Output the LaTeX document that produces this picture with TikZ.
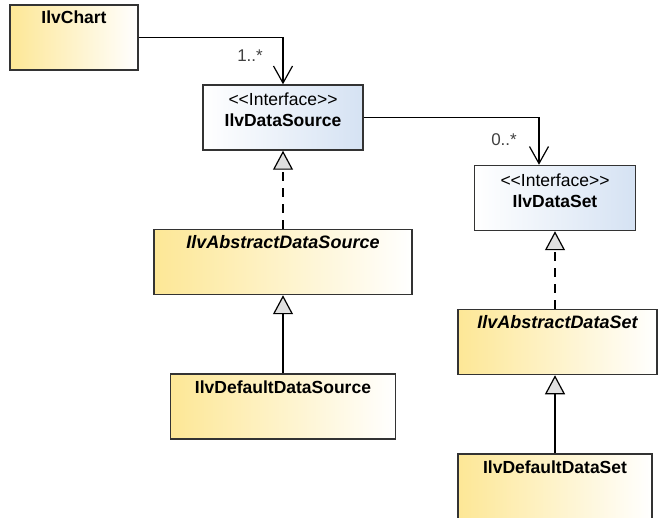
\documentclass[tikz,border=0pt]{standalone}
\usepackage{fontspec}
\setmainfont{Liberation Sans}
\usetikzlibrary{arrows.meta}
\definecolor{classyellow}{RGB}{253,231,150}
\definecolor{ifaceblue}{RGB}{213,226,243}
\definecolor{boxline}{RGB}{51,51,51}
\definecolor{trifill}{RGB}{224,224,224}
\begin{document}
\begin{tikzpicture}[x=1pt,y=-1pt,
  classbox/.style={draw=boxline,line width=1.5pt,inner sep=0pt,text height=19pt,text depth=46pt,
    left color=classyellow,right color=white,font=\fontsize{17.5}{21}\selectfont\bfseries},
  abstract/.style={font=\fontsize{18}{21}\selectfont\bfseries\itshape},
  ifacebox/.style={classbox,left color=white,right color=ifaceblue,text height=21pt,text depth=44pt,
    font=\fontsize{17.5}{21}\selectfont},
  assoc/.style={line width=1.2pt,-{Straight Barb[length=17pt,width=19pt]}},
  realize/.style={line width=1.2pt,dash pattern=on 9pt off 7pt,-{Triangle[length=19pt,width=20pt,fill=trifill]}},
  extends/.style={line width=1.2pt,-{Triangle[length=19pt,width=20pt,fill=trifill]}},
  mult/.style={font=\fontsize{17}{20}\selectfont,text=black!75,anchor=base east,inner sep=0pt}]
\useasboundingbox (0,0) rectangle (658,518);
\node[classbox,minimum width=128pt] (chart) at (74,37.5) {IlvChart};
\node[ifacebox,minimum width=160pt] (dsrc) at (283,117.5) {\begin{tabular}[t]{@{}c@{}}<{}<Interface>{}>\\\bfseries IlvDataSource\end{tabular}};
\node[ifacebox,minimum width=161pt] (dset) at (555,198) {\begin{tabular}[t]{@{}c@{}}<{}<Interface>{}>\\\bfseries IlvDataSet\end{tabular}};
\node[classbox,abstract,minimum width=258pt] (absds) at (283,262) {IlvAbstractDataSource};
\node[classbox,minimum width=225pt] (defds) at (283,406.5) {IlvDefaultDataSource};
\node[classbox,abstract,minimum width=199pt] (absset) at (557.5,342) {IlvAbstractDataSet};
\node[classbox,minimum width=194pt] (defset) at (555,486.5) {IlvDefaultDataSet};
\coordinate (dsetin) at ([xshift=-16pt]dset.north);
\draw[assoc] (chart.east) -| (dsrc.north);
\draw[assoc] (dsrc.east) -| (dsetin);
\draw[realize] (absds.north) -- (dsrc.south);
\draw[extends] (defds.north) -- (absds.south);
\draw[realize] (absset.north -| dset.south) -- (dset.south);
\draw[extends] (defset.north) -- (absset.south -| defset.north);
\node[mult] (m1) at ([xshift=-20pt,yshift=23pt]dsrc.north) {1..*};
\node[mult] (m2) at ([xshift=-22pt,yshift=19pt]dsetin) {0..*};
\end{tikzpicture}
\end{document}
